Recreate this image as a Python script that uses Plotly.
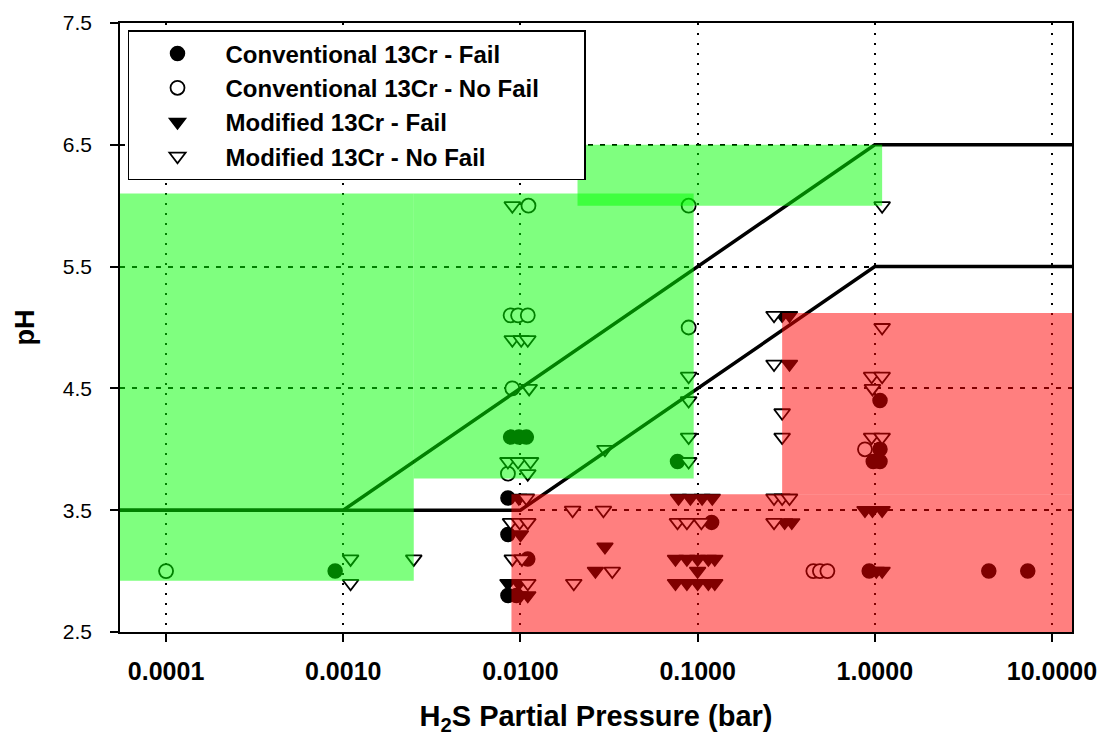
import plotly.graph_objects as go

# ---------------- data ----------------
X_MIN = 10 ** -4.26
X_MAX = 10 ** 1.113

CONV_FAIL_X = [0.0009, 0.0088, 0.0098, 0.0108, 0.0085, 0.0085, 0.0110, 0.0085, 0.0095,
               0.077, 0.120, 1.07, 1.07, 1.07, 0.98, 0.93, 4.4, 7.3]
CONV_FAIL_Y = [3.0, 4.1, 4.1, 4.1, 3.6, 3.3, 3.1, 2.8, 2.8,
               3.9, 3.4, 4.4, 4.0, 3.9, 3.9, 3.0, 3.0, 3.0]

CONV_NOFAIL_X = [0.0001, 0.0111, 0.0088, 0.0097, 0.0110, 0.0090, 0.0085,
                 0.089, 0.089, 0.45, 0.49, 0.54, 0.88]
CONV_NOFAIL_Y = [3.0, 6.0, 5.1, 5.1, 5.1, 4.5, 3.8,
                 6.0, 5.0, 3.0, 3.0, 3.0, 4.0]

MOD_FAIL_X = [0.0098, 0.0100, 0.0085, 0.0098, 0.0100, 0.0110,
              0.030, 0.0265,
              0.078, 0.091, 0.106, 0.121,
              0.075, 0.087, 0.100, 0.115, 0.125, 0.100,
              0.075, 0.087, 0.100, 0.115, 0.125,
              0.30, 0.33, 0.33, 0.31, 0.34,
              0.88, 0.97, 1.10, 1.10, 1.02]
MOD_FAIL_Y = [3.6, 3.3, 2.9, 2.9, 2.8, 2.8,
              3.2, 3.0,
              3.6, 3.6, 3.6, 3.6,
              3.1, 3.1, 3.1, 3.1, 3.1, 3.0,
              2.9, 2.9, 2.9, 2.9, 2.9,
              5.1, 5.1, 4.7, 3.4, 3.4,
              3.5, 3.5, 3.5, 3.0, 3.0]

MOD_NOFAIL_X = [0.0011, 0.0011, 0.0025,
                0.0090, 0.0090, 0.0101, 0.0110, 0.0112, 0.0085, 0.0097, 0.0114, 0.0110,
                0.0108, 0.0088, 0.0099, 0.0110, 0.0090, 0.0102, 0.0110,
                0.0197, 0.0294, 0.020, 0.033, 0.030,
                0.089, 0.089, 0.089, 0.089, 0.077, 0.087, 0.105,
                0.27, 0.27, 0.30, 0.30, 0.27, 0.30, 0.33, 0.27,
                1.10, 1.10, 0.96, 1.10, 0.97, 0.96, 1.10]
MOD_NOFAIL_Y = [3.1, 2.9, 3.1,
                6.0, 4.9, 4.9, 4.9, 4.5, 3.9, 3.9, 3.9, 3.8,
                3.6, 3.4, 3.4, 3.4, 3.1, 3.1, 2.9,
                3.5, 3.5, 2.9, 3.0, 4.0,
                4.6, 4.4, 4.1, 3.9, 3.4, 3.4, 3.4,
                5.1, 4.7, 4.3, 4.1, 3.6, 3.6, 3.6, 3.4,
                6.0, 5.0, 4.6, 4.6, 4.5, 4.1, 4.1]

# boundary lines
LINE_A_X = [X_MIN, 0.001, 1.0, X_MAX]
LINE_A_Y = [3.5, 3.5, 6.5, 6.5]
LINE_B_X = [X_MIN, 0.01, 1.0, X_MAX]
LINE_B_Y = [3.5, 3.5, 5.5, 5.5]

# shaded regions (x0, x1, y0, y1)
GREEN_BOXES = [(X_MIN, 0.0025, 2.92, 6.1),
               (0.0025, 0.095, 3.76, 6.1),
               (0.021, 1.1, 6.0, 6.5)]
RED_BOXES = [(0.0089, X_MAX, 2.5, 3.63),
             (0.30, X_MAX, 3.63, 5.12)]

X_TICKS = [0.0001, 0.001, 0.01, 0.1, 1, 10]
X_TICKTEXT = ["0.0001", "0.0010", "0.0100", "0.1000", "1.0000", "10.0000"]
Y_TICKS = [2.5, 3.5, 4.5, 5.5, 6.5, 7.5]
Y_TICKTEXT = ["2.5", "3.5", "4.5", "5.5", "6.5", "7.5"]

SERIES_NAMES = ["Conventional 13Cr - Fail", "Conventional 13Cr - No Fail",
                "Modified 13Cr - Fail", "Modified 13Cr - No Fail"]

FONT = "Liberation Sans, Arial, sans-serif"
NB = "\u00a0"

fig = go.Figure()

fig.add_trace(go.Scatter(x=CONV_FAIL_X, y=CONV_FAIL_Y, mode="markers",
                         name="<b>" + SERIES_NAMES[0] + "</b>",
                         marker=dict(symbol="circle", size=14, color="black",
                                     line=dict(color="black", width=1.5))))
fig.add_trace(go.Scatter(x=CONV_NOFAIL_X, y=CONV_NOFAIL_Y, mode="markers",
                         name="<b>" + SERIES_NAMES[1] + "</b>" + NB * 6,
                         marker=dict(symbol="circle", size=14, color="white",
                                     line=dict(color="black", width=1.8))))
fig.add_trace(go.Scatter(x=MOD_FAIL_X, y=MOD_FAIL_Y, mode="markers",
                         name="<b>" + SERIES_NAMES[2] + "</b>",
                         marker=dict(symbol="triangle-down", size=14, color="black",
                                     line=dict(color="black", width=1.5))))
fig.add_trace(go.Scatter(x=MOD_NOFAIL_X, y=MOD_NOFAIL_Y, mode="markers",
                         name="<b>" + SERIES_NAMES[3] + "</b>",
                         marker=dict(symbol="triangle-down", size=14, color="white",
                                     line=dict(color="black", width=1.8))))

for lx, ly in [(LINE_A_X, LINE_A_Y), (LINE_B_X, LINE_B_Y)]:
    fig.add_trace(go.Scatter(x=lx, y=ly, mode="lines", showlegend=False,
                             line=dict(color="black", width=3.5), hoverinfo="skip"))

for x0, x1, y0, y1 in GREEN_BOXES:
    fig.add_shape(type="rect", xref="x", yref="y", x0=x0, x1=x1, y0=y0, y1=y1,
                  fillcolor="rgba(0,255,0,0.5)", line=dict(width=0), layer="above")
for x0, x1, y0, y1 in RED_BOXES:
    fig.add_shape(type="rect", xref="x", yref="y", x0=x0, x1=x1, y0=y0, y1=y1,
                  fillcolor="rgba(255,0,0,0.5)", line=dict(width=0), layer="above")

fig.update_xaxes(type="log", range=[-4.26, 1.113],
                 tickvals=X_TICKS, ticktext=X_TICKTEXT,
                 tickfont=dict(family=FONT, size=25, color="black", weight="bold"),
                 ticks="outside", ticklen=8, tickwidth=1.5, tickcolor="black",
                 ticklabelstandoff=8,
                 showline=True, linecolor="black", linewidth=1.5, mirror=True,
                 showgrid=True, gridcolor="black", gridwidth=2.2, griddash="2px,8px",
                 zeroline=False, automargin=False,
                 title=dict(text="<b>H<sub>2</sub>S Partial Pressure (bar)</b>",
                            font=dict(family=FONT, size=29, color="black"),
                            standoff=24))
fig.update_yaxes(range=[2.5, 7.5],
                 tickvals=Y_TICKS, ticktext=Y_TICKTEXT,
                 tickfont=dict(family=FONT, size=21, color="black"),
                 ticks="outside", ticklen=8, tickwidth=1.5, tickcolor="black",
                 ticklabelstandoff=14,
                 showline=True, linecolor="black", linewidth=1.5, mirror=True,
                 showgrid=True, gridcolor="black", gridwidth=1.8, griddash="5px,7px",
                 zeroline=False, automargin=False,
                 title=dict(text="<b>pH</b>",
                            font=dict(family=FONT, size=27, color="black"),
                            standoff=20))

fig.update_layout(
    width=1110, height=736,
    margin=dict(l=120, r=38, t=23, b=104),
    paper_bgcolor="white", plot_bgcolor="white",
    font=dict(family=FONT, color="black"),
    legend=dict(x=0.0084, y=0.9885, xanchor="left", yanchor="top",
                bgcolor="white", bordercolor="black", borderwidth=1.5,
                font=dict(family=FONT, size=24, color="black"),
                itemwidth=86, tracegroupgap=0),
)

fig.write_html("out.html")
